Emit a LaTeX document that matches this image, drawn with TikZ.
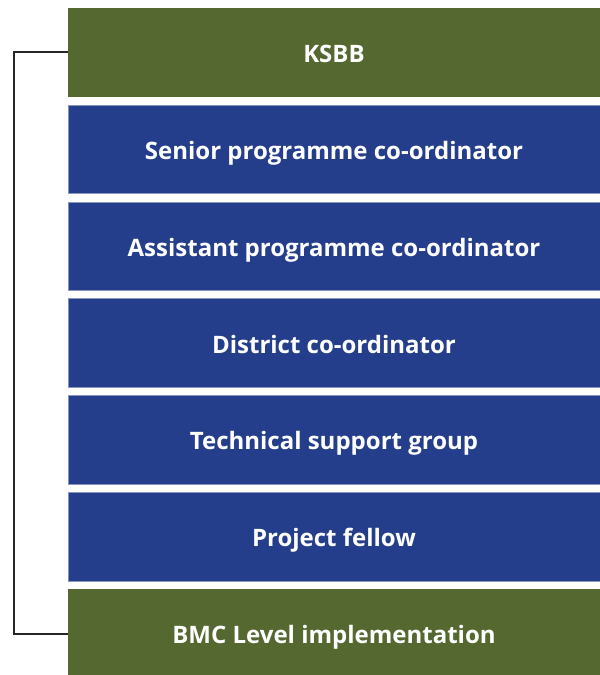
\documentclass[tikz,border=0pt]{standalone}
\usepackage{fontspec}
\setmainfont{Open Sans}
\usetikzlibrary{positioning}
\definecolor{ksbbgreen}{RGB}{84,104,48}
\definecolor{staffblue}{RGB}{37,62,139}
\tikzset{
  level/.style={minimum width=532pt, minimum height=88.7pt, inner sep=0pt, outer sep=0pt,
    text height=20pt, text depth=0pt,
    text=white, font=\fontsize{24}{26}\selectfont\bfseries},
  green box/.style={level, fill=ksbbgreen},
  blue box/.style={level, fill=staffblue, draw=staffblue!55!white, line width=0.6pt}
}
\begin{document}
\begin{tikzpicture}[x=1pt,y=-1pt, node distance=8.2pt]
    \useasboundingbox (0,0) rectangle (600,675);
    \node [green box, anchor=north west] (ksbb) at (68,8) {KSBB};
    \node [blue box, below=of ksbb] (senior) {Senior programme co-ordinator};
    \node [blue box, below=of senior] (assistant) {Assistant programme co-ordinator};
    \node [blue box, below=of assistant] (district) {District co-ordinator};
    \node [blue box, below=of district] (tsg) {Technical support group};
    \node [blue box, below=of tsg] (fellow) {Project fellow};
    \node [green box, below=of fellow] (bmc) {BMC Level implementation};
    % bracket linking top and bottom
    \draw [line width=2pt, black!85] (ksbb.west) -| (14,0 |- bmc.west) -- (bmc.west);
\end{tikzpicture}
\end{document}
